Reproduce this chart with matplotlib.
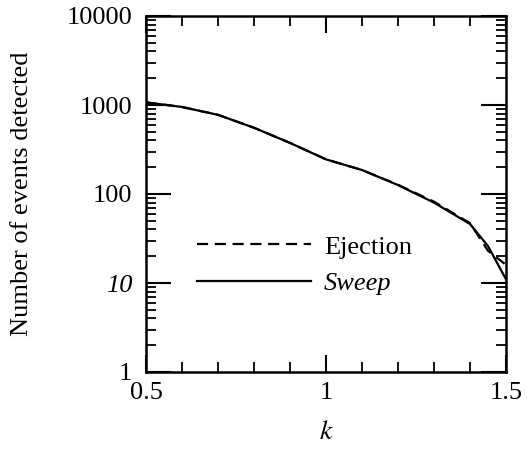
import numpy as np
import matplotlib.pyplot as plt
from matplotlib.ticker import FixedLocator, LogLocator, NullFormatter

plt.rcParams['font.family'] = ['Liberation Serif', 'DejaVu Serif']
plt.rcParams['mathtext.fontset'] = 'stix'

k = [0.5, 0.6, 0.7, 0.8, 0.9, 1.0, 1.1, 1.2, 1.3, 1.4, 1.45, 1.5]
ejection = [1070, 950, 775, 555, 375, 245, 186, 127, 82, 47, 23, 16]
sweep = [1070, 950, 775, 555, 375, 245, 186, 126, 80, 46, 26, 11]

fig = plt.figure(figsize=(5.27, 4.54), dpi=100)
ax = fig.add_axes([146 / 527, 82 / 454, 360 / 527, 356 / 454])

ax.plot(k, ejection, 'k--', lw=1.6, dashes=(5, 3), label='Ejection')
ax.plot(k, sweep, 'k-', lw=1.6, label='Sweep')

ax.set_yscale('log')
ax.set_xlim(0.5, 1.5)
ax.set_ylim(1, 10000)

ax.set_xticks([0.5, 1, 1.5])
ax.set_xticklabels(['0.5', '1', '1.5'])
ax.xaxis.set_minor_locator(FixedLocator(np.arange(0.6, 1.5, 0.1)))
ax.set_yticks([1, 10, 100, 1000, 10000])
ax.set_yticklabels(['1', '10', '100', '1000', '10000'])
ax.yaxis.set_minor_locator(LogLocator(base=10, subs=np.arange(2, 10)))
ax.yaxis.set_minor_formatter(NullFormatter())
ax.get_yticklabels()[1].set_fontstyle('italic')

ax.tick_params(which='both', direction='in', top=True, right=True, labelsize=19, width=1.5)
ax.tick_params(axis='x', which='major', length=12, pad=7)
ax.tick_params(axis='y', which='major', length=18, pad=10)
ax.tick_params(which='minor', length=7, width=1.3)
for s in ax.spines.values():
    s.set_linewidth(1.8)

ax.set_xlabel('$k$', fontsize=20, labelpad=12)
ax.set_ylabel('Number of events detected', fontsize=19, labelpad=24)

leg = ax.legend(loc='center left', bbox_to_anchor=(0.142, 0.3), frameon=False,
                fontsize=19, handlelength=4.3, handletextpad=0.5, labelspacing=0.5,
                borderpad=0, borderaxespad=0)
leg.get_texts()[1].set_fontstyle('italic')

fig.savefig('out.png', dpi=100)
